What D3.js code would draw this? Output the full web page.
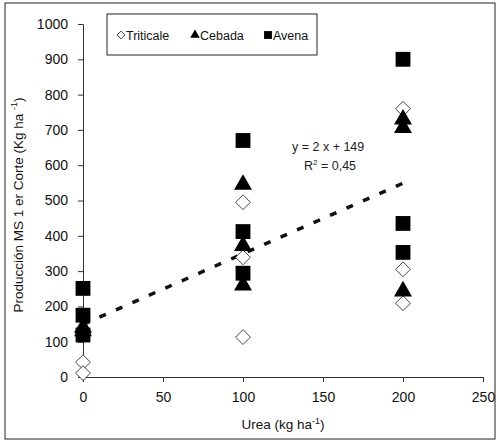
<!DOCTYPE html>
<html>
<head>
<meta charset="utf-8">
<script src="https://cdn.jsdelivr.net/npm/d3@7"></script>
<style>
  body { margin: 0; background: #fff; }
  svg { font-family: Arial, "Liberation Sans", sans-serif; }
</style>
</head>
<body>
<svg id="chart" width="500" height="443"></svg>
<script>
// urea doses (kg ha-1) and yields for each crop
const triticaleX = [0, 0, 100, 100, 100, 200, 200, 200];
const triticaleY = [42, 11, 495, 339, 113, 760, 305, 209];
const cebadaX = [0, 0, 100, 100, 100, 200, 200, 200];
const cebadaY = [140, 130, 545, 372, 260, 730, 706, 243];
const avenaX = [0, 0, 0, 100, 100, 100, 200, 200, 200];
const avenaY = [251, 175, 119, 670, 412, 294, 900, 435, 353];
const xTicks = [0, 50, 100, 150, 200, 250];
const yTicks = [0, 100, 200, 300, 400, 500, 600, 700, 800, 900, 1000];
const trendSlope = 2;
const trendIntercept = 149;

const svg = d3.select('#chart');
const margin = { left: 83, top: 24, right: 17, bottom: 66 };
const width = 500 - margin.left - margin.right;
const height = 443 - margin.top - margin.bottom;

// outer frame
svg.append('rect')
    .attr('x', 5).attr('y', 3)
    .attr('width', 490).attr('height', 436)
    .attr('fill', 'none').attr('stroke', '#222').attr('stroke-width', 1);

const g = svg.append('g').attr('transform', `translate(${margin.left},${margin.top})`);

const x = d3.scaleLinear().domain([0, 250]).range([0, width]);
const y = d3.scaleLinear().domain([0, 1000]).range([height, 0]);

const xAxis = g.append('g')
    .attr('transform', `translate(0,${height})`)
    .call(d3.axisBottom(x).tickValues(xTicks).tickFormat(d3.format('d')).tickSize(5).tickPadding(10));
const yAxis = g.append('g')
    .call(d3.axisLeft(y).tickValues(yTicks).tickFormat(d3.format('d')).tickSize(5).tickPadding(10));

[xAxis, yAxis].forEach((a) => {
    a.selectAll('text').attr('font-size', 14).attr('fill', '#111')
        .attr('font-family', 'Arial, "Liberation Sans", sans-serif');
    a.selectAll('path, line').attr('stroke', '#333');
});

// trend line
g.append('line')
    .attr('x1', x(0)).attr('y1', y(trendIntercept))
    .attr('x2', x(200)).attr('y2', y(trendIntercept + trendSlope * 200))
    .attr('stroke', '#111').attr('stroke-width', 3.5)
    .attr('stroke-dasharray', '7,11');

const sym = (type, size) => d3.symbol().type(type).size(size)();

const series = [
    { name: 'Triticale', xs: triticaleX, ys: triticaleY, type: d3.symbolDiamond2, size: 140, fill: '#fff' },
    { name: 'Cebada', xs: cebadaX, ys: cebadaY, type: d3.symbolTriangle, size: 140, fill: '#000' },
    { name: 'Avena', xs: avenaX, ys: avenaY, type: d3.symbolSquare, size: 220, fill: '#000' }
];

series.forEach((s) => {
    g.selectAll(null)
        .data(s.ys.map((v, i) => [s.xs[i], v]))
        .enter()
        .append('path')
        .attr('transform', (d) => `translate(${x(d[0])},${y(d[1])})`)
        .attr('d', sym(s.type, s.size))
        .attr('fill', s.fill)
        .attr('stroke', s.fill === '#fff' ? '#444' : 'none')
        .attr('stroke-width', 1);
});

// legend
const legend = svg.append('g');
legend.append('rect')
    .attr('x', 107).attr('y', 14).attr('width', 210).attr('height', 41)
    .attr('fill', '#fff').attr('stroke', '#222');
const legendPos = [121, 195, 268];
series.forEach((s, i) => {
    const item = legend.append('g').attr('transform', `translate(${legendPos[i]},35)`);
    item.append('path')
        .attr('d', sym(s.type, s.size * 0.28))
        .attr('fill', s.fill)
        .attr('stroke', s.fill === '#fff' ? '#444' : 'none');
    item.append('text')
        .attr('x', 5).attr('y', 4.5)
        .attr('font-size', 12.5).attr('fill', '#111')
        .text(s.name);
});

// equation
svg.append('text')
    .attr('x', 292).attr('y', 151)
    .attr('font-size', 12.5).attr('fill', '#222')
    .text(`y = ${trendSlope} x  + ${trendIntercept}`);
const r2 = svg.append('text')
    .attr('x', 304).attr('y', 170)
    .attr('font-size', 12.5).attr('fill', '#222');
r2.append('tspan').text('R');
r2.append('tspan').attr('dy', -5).attr('font-size', 8).text('2');
r2.append('tspan').attr('dy', 5).text(' = 0,45');

// axis titles
const xt = svg.append('text')
    .attr('x', 283).attr('y', 429)
    .attr('text-anchor', 'middle')
    .attr('font-size', 13.5).attr('fill', '#111');
xt.append('tspan').text('Urea (kg ha');
xt.append('tspan').attr('dy', -5).attr('font-size', 9).text('-1');
xt.append('tspan').attr('dy', 5).text(')');

const yt = svg.append('text')
    .attr('transform', 'translate(23,205) rotate(-90)')
    .attr('text-anchor', 'middle')
    .attr('font-size', 13.5).attr('fill', '#111');
yt.append('tspan').text('Producción MS 1 er Corte (Kg ha ');
yt.append('tspan').attr('dy', -6).attr('font-size', 9).text('-1');
yt.append('tspan').attr('dy', 6).text(')');
</script>
</body>
</html>
